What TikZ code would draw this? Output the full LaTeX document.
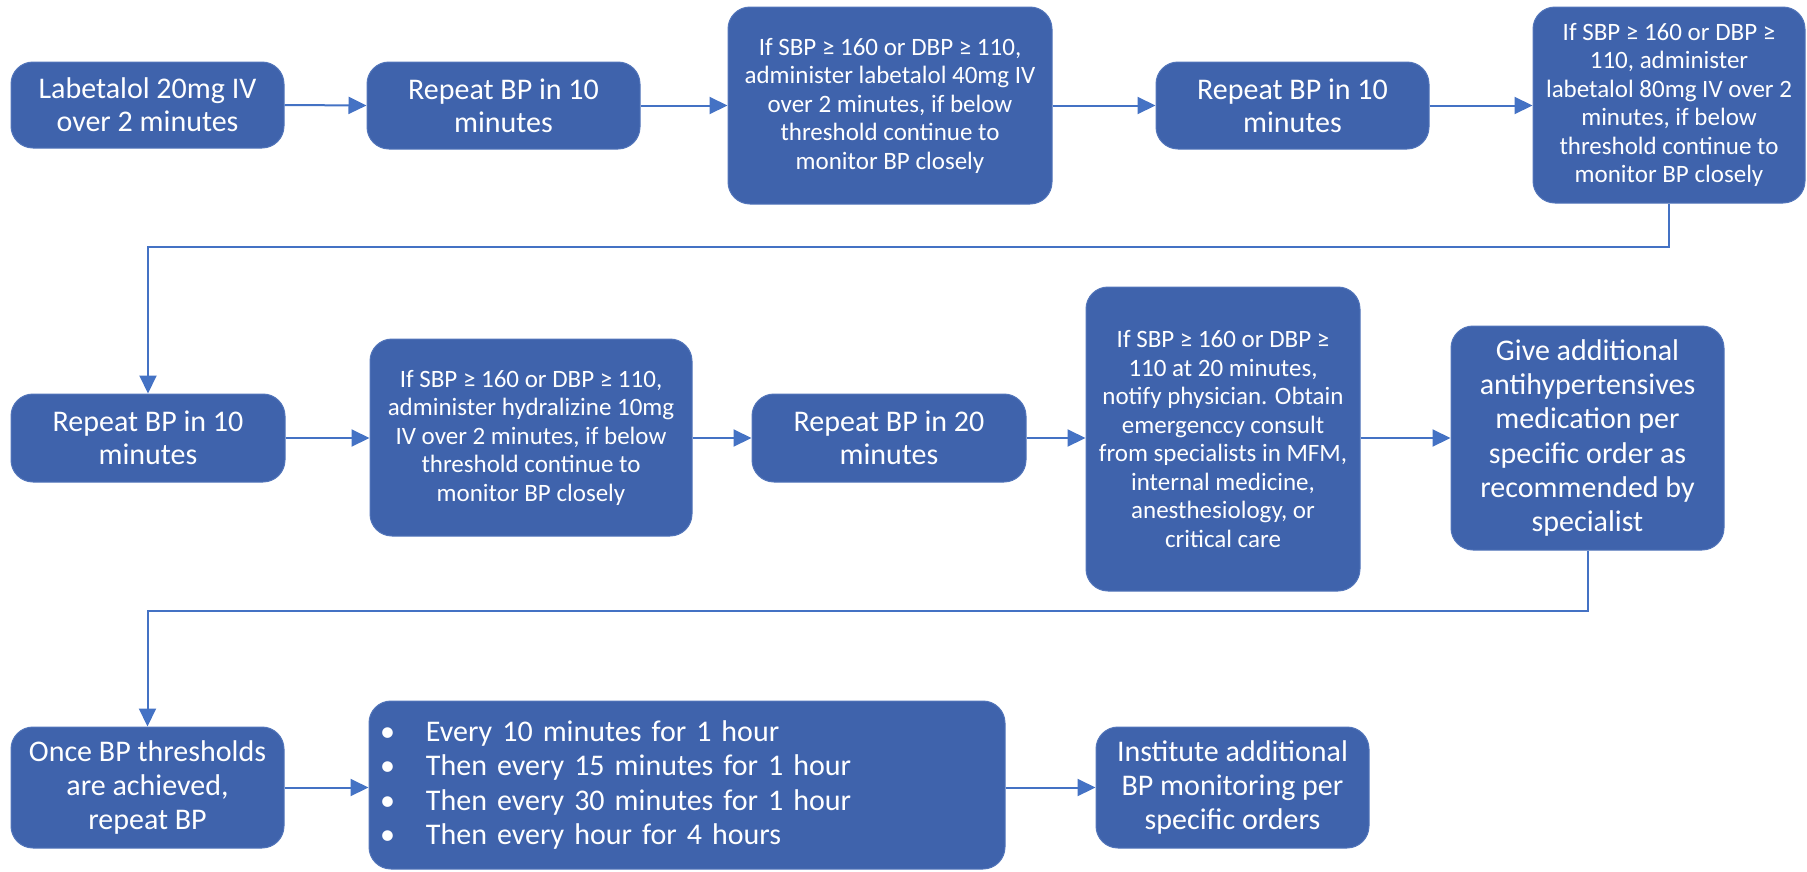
\documentclass[tikz,border=0pt]{standalone}
\usepackage{fontspec}
\setmainfont{Carlito}
\usetikzlibrary{arrows.meta}
\definecolor{boxfill}{RGB}{63,99,172}
\definecolor{boxedge}{RGB}{82,117,186}
\definecolor{arrowc}{RGB}{68,114,196}
\begin{document}
\begin{tikzpicture}[x=1pt,y=-1pt,
  box/.style={draw=boxedge, line width=1pt, fill=boxfill, rounded corners=22pt,
    text=white, align=center, inner sep=0pt},
  big/.style={font=\fontsize{30}{33}\selectfont},
  bigj/.style={font=\fontsize{30}{34.3}\selectfont},
  small/.style={font=\fontsize{25}{28.5}\selectfont},
  conn/.style={draw=arrowc, line width=2pt, -{Triangle[length=18pt,width=17pt]}}]
\useasboundingbox (0,0) rectangle (1807,871);

% row 1
\node[box,big,minimum width=273pt,minimum height=86pt] (A) at (147.5,105) {Labetalol 20mg IV\\over 2 minutes};
\node[box,big,minimum width=273pt,minimum height=87pt] (B) at (503.5,105.5) {Repeat BP in 10\\minutes};
\node[box,small,minimum width=324pt,minimum height=197pt] (C) at (890,105.5) {If SBP ≥ 160 or DBP ≥ 110,\\administer labetalol 40mg IV\\over 2 minutes, if below\\threshold continue to\\monitor BP closely};
\node[box,big,minimum width=273pt,minimum height=87pt] (D) at (1292.5,105.5) {Repeat BP in 10\\minutes};
\node[box,small,minimum width=272pt,minimum height=196pt] (E) at (1669,105) {If SBP ≥ 160 or DBP ≥\\110, administer\\labetalol 80mg IV over 2\\minutes, if below\\threshold continue to\\monitor BP closely};

% row 2
\node[box,big,minimum width=274pt,minimum height=88pt] (F) at (148,438) {Repeat BP in 10\\minutes};
\node[box,small,minimum width=322pt,minimum height=197pt] (G) at (531,437.5) {If SBP ≥ 160 or DBP ≥ 110,\\administer hydralizine 10mg\\IV over 2 minutes, if below\\threshold continue to\\monitor BP closely};
\node[box,big,minimum width=274pt,minimum height=88pt] (H) at (889,438) {Repeat BP in 20\\minutes};
\node[box,small,minimum width=274pt,minimum height=304pt] (I) at (1223,439) {If SBP ≥ 160 or DBP ≥\\110 at 20 minutes,\\notify physician. Obtain\\emergenccy consult\\from specialists in MFM,\\internal medicine,\\anesthesiology, or\\critical care};
\node[box,bigj,minimum width=273pt,minimum height=224pt] (J) at (1587.5,438) {Give additional\\antihypertensives\\medication per\\specific order as\\recommended by\\specialist};

% row 3
\node[box,bigj,minimum width=273pt,minimum height=121pt] (K) at (147.5,787.5) {Once BP thresholds\\are achieved,\\repeat BP};
\node[box,font=\fontsize{30}{34.5}\selectfont,minimum width=636pt,minimum height=168pt,
  text width=614pt,align=left,inner xsep=11pt] (L) at (687,785)
  {\makebox[46pt][l]{\textbullet}Every 10 minutes for 1 hour\\
   \makebox[46pt][l]{\textbullet}Then every 15 minutes for 1 hour\\
   \makebox[46pt][l]{\textbullet}Then every 30 minutes for 1 hour\\
   \makebox[46pt][l]{\textbullet}Then every hour for 4 hours};
\node[box,bigj,minimum width=273pt,minimum height=121pt] (M) at (1232.5,787.5) {Institute additional\\BP monitoring per\\specific orders};

% connectors
\draw[conn] (A.east) -- (B.west);
\draw[conn] (B.east) -- (C.west |- B.east);
\draw[conn] (C.east |- D.west) -- (D.west);
\draw[conn] (D.east) -- (E.west |- D.east);
\draw[conn] (E.south) -- ++(0,43) -| (F.north);
\draw[conn] (F.east) -- (G.west |- F.east);
\draw[conn] (G.east |- H.west) -- (H.west);
\draw[conn] (H.east) -- (I.west |- H.east);
\draw[conn] (I.east |- J.west) -- (J.west);
\draw[conn] (J.south) -- ++(0,60) -| (K.north);
\draw[conn] (K.east) -- (L.west |- K.east);
\draw[conn] (L.east |- M.west) -- (M.west);
\end{tikzpicture}
\end{document}
